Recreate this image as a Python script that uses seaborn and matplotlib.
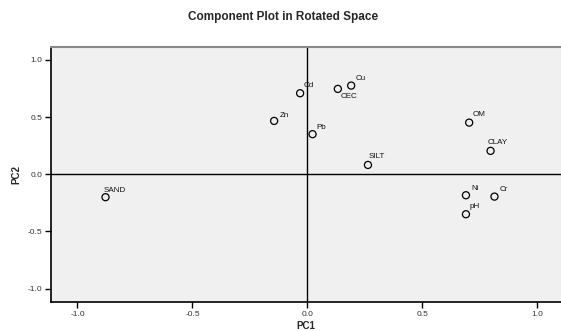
import matplotlib
matplotlib.use("Agg")
import matplotlib.pyplot as plt
import seaborn as sns
import pandas as pd

variables = ["SAND", "Zn", "Cd", "CEC", "Cu", "Pb", "OM", "CLAY", "SILT", "Ni", "Cr", "pH"]
pc1 = [-0.878, -0.145, -0.032, 0.132, 0.190, 0.022, 0.703, 0.796, 0.263, 0.689, 0.813, 0.689]
pc2 = [-0.201, 0.466, 0.708, 0.746, 0.775, 0.350, 0.451, 0.204, 0.081, -0.184, -0.196, -0.350]
x_ticks = [-1.0, -0.5, 0.0, 0.5, 1.0]
y_ticks = [-1.0, -0.5, 0.0, 0.5, 1.0]

# label offsets in pixels (dx, dy) relative to the marker
label_offsets = {
    "SAND": (-2, 7), "Zn": (6, 5), "Cd": (4, 7.5), "CEC": (3, -8),
    "Cu": (4, 7), "Pb": (4, 7), "OM": (3, 8), "CLAY": (-3, 8),
    "SILT": (1, 8), "Ni": (5, 7), "Cr": (5, 7), "pH": (4, 8),
}

df = pd.DataFrame({"var": variables, "PC1": pc1, "PC2": pc2})

sns.set_style("white")
plt.rcParams["font.family"] = ["Liberation Sans", "DejaVu Sans"]

fig = plt.figure(figsize=(5.61, 3.31), dpi=100)
ax = fig.add_axes([51 / 561, 1 - 301.7 / 331, (560.5 - 51) / 561, (301.7 - 46.7) / 331])
ax.set_facecolor("#f0f0f0")

ax.axhline(0, color="black", lw=1.0, zorder=1)
ax.axvline(0, color="black", lw=1.0, zorder=1)

sns.scatterplot(data=df, x="PC1", y="PC2", ax=ax, marker="o", s=26,
                facecolor="none", edgecolor="black", linewidth=0.9, zorder=3)

px = 72 / 100
for name, x, y in zip(variables, pc1, pc2):
    dx, dy = label_offsets[name]
    ax.annotate(name, (x, y), xytext=(dx * px, dy * px), textcoords="offset points",
                fontsize=5.8, ha="left", va="center", color="#111111")

ax.set_xlim(-1.115, 1.100)
ax.set_ylim(-1.115, 1.115)
ax.set_xticks(x_ticks)
ax.set_yticks(y_ticks)
ax.set_xticklabels([f"{t:.1f}" for t in x_ticks])
ax.set_yticklabels([f"{t:.1f}" for t in y_ticks])
ax.tick_params(axis="both", direction="out", length=4, width=1, labelsize=6,
               colors="black", labelcolor="#333333", bottom=True, left=True)
ax.tick_params(axis="x", pad=2.5)
ax.tick_params(axis="y", pad=2)

ax.set_xlabel("PC1", fontsize=7, fontweight="bold", labelpad=2)
ax.set_ylabel("PC2", fontsize=7, fontweight="bold", labelpad=4.5)

for side in ["left", "bottom"]:
    ax.spines[side].set_color("black")
    ax.spines[side].set_linewidth(1.2)
ax.spines["top"].set_color("#888888")
ax.spines["top"].set_linewidth(1.5)
ax.spines["right"].set_color("#cccccc")
ax.spines["right"].set_linewidth(0.8)

fig.text(0.505, 1 - 17 / 331, "Component Plot in Rotated Space", ha="center", va="center",
         fontsize=8.5, fontweight="bold")

fig.savefig("out.png", dpi=100)
